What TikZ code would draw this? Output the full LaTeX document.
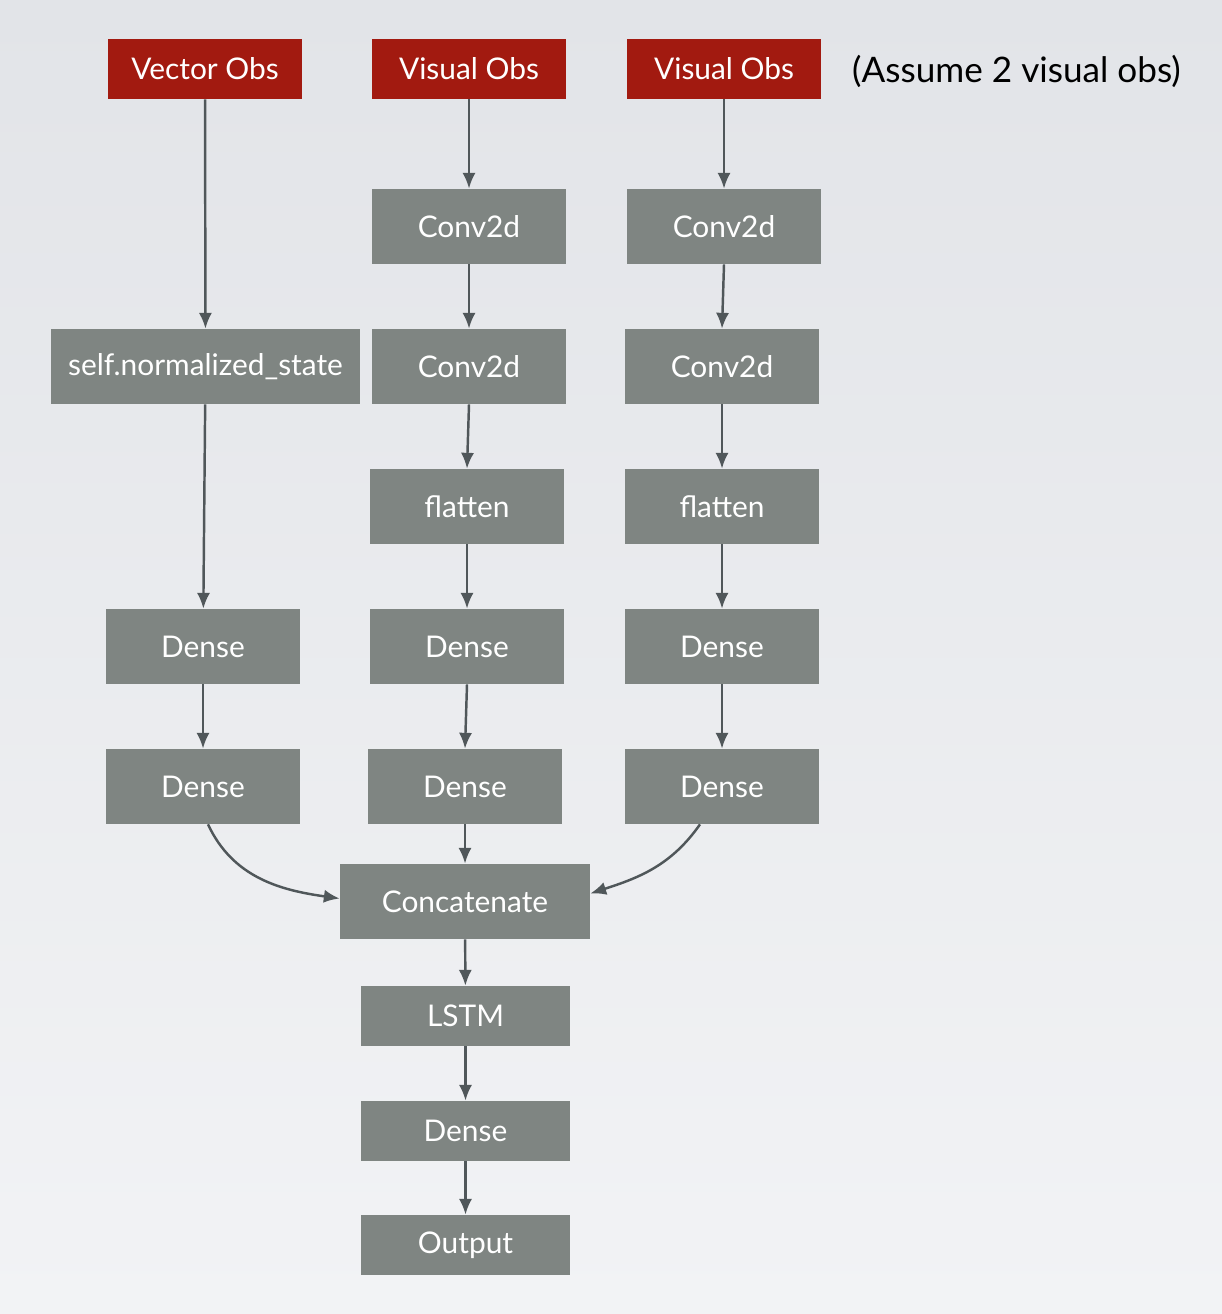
\documentclass[tikz,border=0pt]{standalone}
\usepackage{fontspec}
\setmainfont{Lato}
\usetikzlibrary{arrows.meta, positioning, calc}
\definecolor{obsred}{HTML}{A21A10}
\definecolor{layergray}{HTML}{7F8582}
\definecolor{arrowgray}{HTML}{50575A}
\definecolor{bgtop}{HTML}{E2E4E8}
\definecolor{bgbottom}{HTML}{F2F3F5}

\begin{document}
\begin{tikzpicture}[x=0.02cm, y=-0.02cm, >={Latex[length=9pt,width=7.5pt]},
    layer/.style={fill=layergray, text=white, inner sep=0pt,
      minimum width=3.88cm, minimum height=1.5cm,
      font=\fontsize{17}{20}\selectfont},
    small/.style={layer, minimum width=4.18cm, minimum height=1.2cm},
    obs/.style={layer, fill=obsred, minimum height=1.2cm},
    flow/.style={->, arrowgray, line width=1.4pt}]
        % background
        \shade[top color=bgtop, bottom color=bgbottom] (0,0) rectangle (1222,1314);
        \useasboundingbox (0,0) rectangle (1222,1314);

        % inputs
        \node[obs] (vecobs) at (205,69) {Vector Obs};
        \node[obs] (visobsa) at (469,69) {Visual Obs};
        \node[obs] (visobsb) at (724,69) {Visual Obs};
        \node[anchor=west, font=\fontsize{20}{24}\selectfont] (note) at (846,71)
          {(Assume 2 visual obs)};

        % vector branch
        \node[layer, minimum width=6.18cm] (norm) at (205.5,366.5) {self.normalized\_state};
        \node[layer] (densea) at (203,646.5) {Dense};
        \node[layer] (denseb) at (203,786.5) {Dense};

        % first visual branch
        \node[layer] (conva) at (469,226.5) {Conv2d};
        \node[layer] (convb) at (469,366.5) {Conv2d};
        \node[layer] (flata) at (467,506.5) {flatten};
        \node[layer] (densec) at (467,646.5) {Dense};
        \node[layer] (densed) at (465,786.5) {Dense};

        % second visual branch
        \node[layer] (convc) at (724,226.5) {Conv2d};
        \node[layer] (convd) at (722,366.5) {Conv2d};
        \node[layer] (flatb) at (722,506.5) {flatten};
        \node[layer] (densee) at (722,646.5) {Dense};
        \node[layer] (densef) at (722,786.5) {Dense};

        % merged part
        \node[layer, minimum width=5cm] (concat) at (465,901.5) {Concatenate};
        \node[small] (lstm) at (465.5,1016) {LSTM};
        \node[small] (denseout) at (465.5,1131) {Dense};
        \node[small] (output) at (465.5,1245) {Output};

        \draw[flow] (vecobs) -- (norm);
        \draw[flow] (norm) -- (densea);
        \draw[flow] (densea) -- (denseb);

        \draw[flow] (visobsa) -- (conva);
        \draw[flow] (conva) -- (convb);
        \draw[flow] (convb.south) -- (flata.north);
        \draw[flow] (flata) -- (densec);
        \draw[flow] (densec.south) -- (densed.north);
        \draw[flow] (densed) -- (concat);

        \draw[flow] (visobsb) -- (convc);
        \draw[flow] (convc.south) -- (convd.north);
        \draw[flow] (convd) -- (flatb);
        \draw[flow] (flatb) -- (densee);
        \draw[flow] (densee) -- (densef);

        \draw[flow] ([xshift=0.1cm]denseb.south) to[out=-65, in=172]
          ([yshift=0.06cm]concat.west);
        \draw[flow] ([xshift=-0.44cm]densef.south) to[out=-125, in=18]
          ([yshift=0.16cm]concat.east);

        \draw[flow] (concat) -- (lstm);
        \draw[flow] (lstm) -- (denseout);
        \draw[flow] (denseout) -- (output);
      \end{tikzpicture}
\end{document}
